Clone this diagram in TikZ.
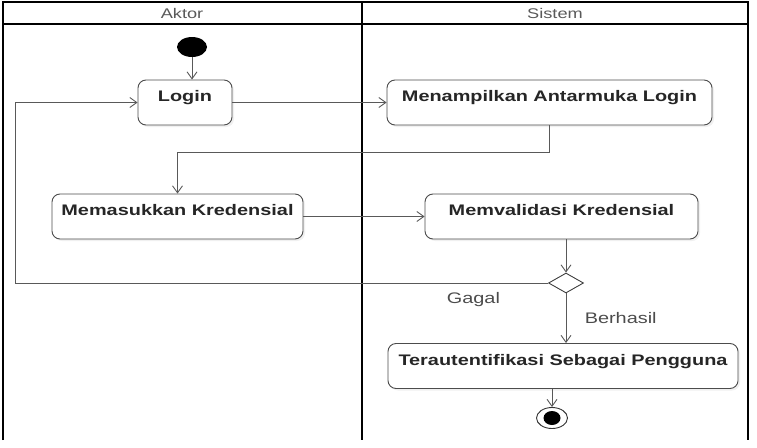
\documentclass[tikz,border=0pt]{standalone}
\usepackage{fontspec}
\setmainfont{Liberation Sans}[FakeStretch=1.3]
\usetikzlibrary{arrows.meta,positioning,shapes.geometric,shadows}

\begin{document}
\begin{tikzpicture}[x=1pt,y=-1pt,>={Straight Barb[length=7pt,width=10pt]},
    act/.style={draw=black!70,line width=0.9pt,rounded corners=8pt,fill=white,
      drop shadow={shadow xshift=2pt,shadow yshift=-2pt,opacity=0.12},
      minimum height=45pt,text height=11pt,text depth=13pt,
      font=\fontsize{15.3}{18}\selectfont\bfseries,text=black!85},
    start/.style={ellipse,fill=black,minimum width=30pt,minimum height=20pt,inner sep=0pt},
    finish/.style={ellipse,draw=black!80,line width=0.9pt,minimum width=31pt,minimum height=21pt,inner sep=0pt,
      path picture={\fill[black] (path picture bounding box.center) ellipse (8.5pt and 7pt);}},
    decision/.style={diamond,draw=black!75,line width=0.9pt,fill=white,aspect=1.75,
      minimum width=35pt,minimum height=20pt,inner sep=0pt},
    flow/.style={color=black!65,line width=0.9pt},
    lane/.style={draw=black,line width=1.6pt},
    head/.style={font=\fontsize{14}{16}\selectfont,text=black!65},
    lbl/.style={font=\fontsize{15.3}{18}\selectfont,text=black!70}]

  \useasboundingbox (0,0) rectangle (757,447);

  % swimlanes
  \draw[lane] (3,440) -- (3,2) -- (748,2) -- (748,440);
  \draw[lane] (3,24) -- (748,24);
  \draw[lane] (362,2) -- (362,440);
  \node[head] (aktor) at (182,13) {Aktor};
  \node[head] (sistem) at (555,13) {Sistem};

  \node[start] (init) at (192,47) {};
  \node[act,minimum width=94pt] (login) at (185,102.5) {Login};
  \node[act,minimum width=325pt] (show) at (549.5,102.5) {Menampilkan Antarmuka Login};
  \node[act,minimum width=251pt] (input) at (177.5,216.5) {Memasukkan Kredensial};
  \node[act,minimum width=273pt] (check) at (561.5,216.5) {Memvalidasi Kredensial};
  \node[decision] (dec) at (566,283) {};
  \node[act,minimum width=350pt] (auth) at (563,366) {Terautentifikasi Sebagai Pengguna};
  \node[finish] (final) at (552,418) {};
  \coordinate (back) at (15,283);

  \path[->,flow] (init) edge (init |- login.north)
                 (login) edge (show)
                 (input) edge (check)
                 (dec.north |- check.south) edge (dec.north)
                 (dec.south) edge node[lbl,right=15pt] {Berhasil} (dec.south |- auth.north)
                 (final.north |- auth.south) edge (final.north);

  \draw[->,flow] (show.south) -- ++(0,27) -| (input.north);
  \draw[->,flow] (dec.west) -- node[lbl,below=6pt,pos=0.14] {Gagal} (back) |- (login.west);

\end{tikzpicture}
\end{document}
